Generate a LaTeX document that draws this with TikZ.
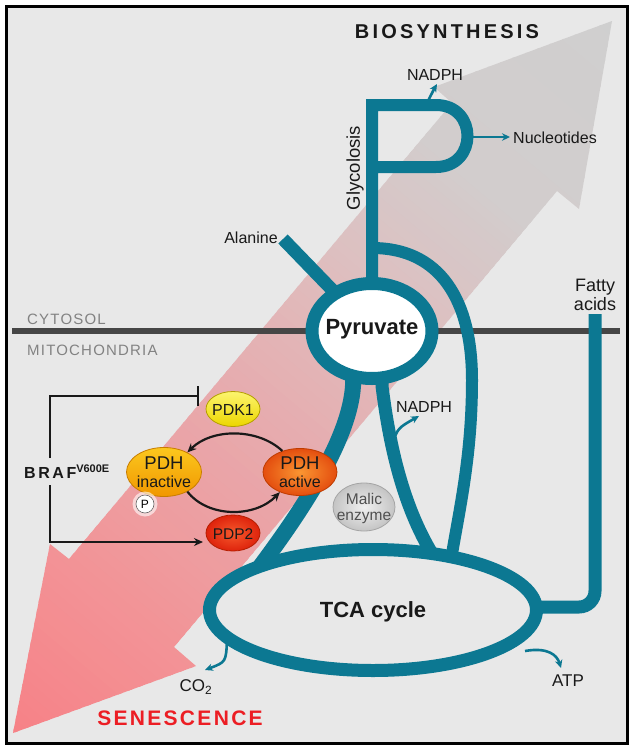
\documentclass[tikz,border=0pt]{standalone}
\usepackage{fontspec}
\setmainfont{Liberation Sans}
\newfontfamily\bigspaced[LetterSpace=16]{Liberation Sans}
\newfontfamily\midspaced[LetterSpace=11]{Liberation Sans}
\newfontfamily\smallspaced[LetterSpace=8]{Liberation Sans}
\usetikzlibrary{arrows.meta,shapes.geometric}
\definecolor{bgc}{RGB}{232,232,232}
\definecolor{tealc}{RGB}{12,120,146}
\definecolor{txt}{RGB}{25,25,25}
\definecolor{memb}{RGB}{70,70,70}
\definecolor{cytc}{RGB}{130,130,130}
\definecolor{senc}{RGB}{236,30,36}
\definecolor{gA}{RGB}{247,128,133}
\definecolor{gB}{RGB}{242,148,151}
\definecolor{gC}{RGB}{233,166,169}
\definecolor{gD}{RGB}{223,189,190}
\definecolor{gE}{RGB}{210,205,205}
\definecolor{gF}{RGB}{207,207,207}
\definecolor{pdkT}{RGB}{252,244,110}
\definecolor{pdkB}{RGB}{236,214,0}
\definecolor{pdkD}{RGB}{180,160,0}
\definecolor{inT}{RGB}{251,200,30}
\definecolor{inB}{RGB}{241,150,0}
\definecolor{inD}{RGB}{200,125,0}
\definecolor{acI}{RGB}{250,150,50}
\definecolor{acO}{RGB}{228,78,15}
\definecolor{acD}{RGB}{190,60,0}
\definecolor{ppI}{RGB}{246,90,45}
\definecolor{ppO}{RGB}{222,35,12}
\definecolor{ppD}{RGB}{180,30,0}
\definecolor{meI}{RGB}{240,240,240}
\definecolor{meO}{RGB}{196,196,196}
\definecolor{meD}{RGB}{165,165,165}
\definecolor{metx}{RGB}{80,80,80}
\begin{document}
\begin{tikzpicture}[x=1pt,y=-1pt,
  tube/.style={draw=tealc, line width=13pt},
  flow/.style={draw=tealc, line width=2.6pt, -{Stealth[length=8pt,width=7.5pt]}},
  lab/.style={inner sep=0pt, text=txt, font=\fontsize{16}{18}\selectfont},
  enz/.style={ellipse, line width=0.8pt, inner sep=0pt},
  ctrl/.style={draw=txt, line width=2.2pt},
]
\useasboundingbox (0,0) rectangle (633,750);
\fill[white] (0,0) rectangle (633,750);
\fill[bgc] (6,6) rectangle (627,743);

% big double arrow with gradient
\begin{scope}
\clip (612,21) -- (579,209) -- (557,191) -- (174,647) -- (196,666) -- (13,733) -- (50,544) -- (69,559) -- (452,103) -- (434,87) -- cycle;
\begin{scope}[rotate=50]
\foreach \a/\b/\ca/\cb in {-570/-380/gA/gB,-380/-200/gB/gC,-200/0/gC/gD,0/170/gD/gE,170/400/gE/gF}{
  \foreach \i in {0,...,19}{
    \pgfmathsetmacro\xs{\a+(\b-\a)*\i/20}
    \pgfmathtruncatemacro\pc{100*(\i+0.5)/20}
    \colorlet{tmpc}{\cb!\pc!\ca}
    \fill[tmpc] (\xs,375) rectangle ++(13,220);
  }
}
\end{scope}
\end{scope}

% membrane
\draw[memb, line width=5.5pt] (12,331) -- (620,331);
\node[inner sep=0pt, anchor=west, text=cytc, font=\smallspaced\fontsize{15}{17}\selectfont] (cyto) at (27,319) {CYTOSOL};
\node[inner sep=0pt, anchor=west, text=cytc, font=\smallspaced\fontsize{15}{17}\selectfont] (mito) at (27,350) {MITOCHONDRIA};

% coordinates
\coordinate (pyrc) at (372,331);
\coordinate (tcac) at (373,610);
\coordinate (alaEnd) at (283,239);
\coordinate (glyTop) at (372,105);
\coordinate (faTop) at (595,314);

% teal tubes
\draw[tube, line width=12pt, line join=miter] (pyrc) -- (glyTop) -- (436,105) .. controls (478,105) and (478,167) .. (436,167) -- (372,167);
\draw[tube] (alaEnd) -- (pyrc);
\draw[tube, line width=12pt] (372,248) .. controls (440,248) and (472,300) .. (472,380) .. controls (472,460) and (458,515) .. (450,566);
\draw[tube, line width=16pt] (353,360) -- (353,386) .. controls (350,430) and (318,490) .. (256,572);
\draw[tube] (382,360) -- (382,386) .. controls (390,450) and (405,515) .. (440,566);
\draw[tube, rounded corners=16pt] (faTop) -- (595,607) -- (530,607);

% small flux arrows
\coordinate (nadA) at (428,101);
\coordinate (nadB) at (437,84);
\draw[flow] (nadA) .. controls (431,94) .. (nadB);
\coordinate (nucA) at (473,137);
\coordinate (nucB) at (510,137);
\draw[flow] (nucA) -- (nucB);
\coordinate (nad2A) at (392,444);
\coordinate (nad2B) at (419,416);
\draw[flow] (nad2A) .. controls (398,428) .. (nad2B);
\coordinate (co2A) at (227,640);
\coordinate (co2B) at (205,670);
\draw[flow] (co2A) .. controls (226,662) .. (co2B);
\coordinate (atpA) at (525,651);
\coordinate (atpB) at (561,668);
\draw[flow] (atpA) .. controls (548,647) and (557,655) .. (atpB);

% TCA and pyruvate
\node[ellipse, draw=tealc, fill=bgc, line width=13pt, minimum width=327pt, minimum height=121pt, inner sep=0pt] (tca) at (tcac) {};
\node[ellipse, draw=tealc, fill=white, line width=13pt, minimum width=120pt, minimum height=95pt, inner sep=0pt] (pyr) at (pyrc) {};
\node[inner sep=0pt, text=txt, font=\bfseries\fontsize{22}{24}\selectfont] (pyrT) at (372,329) {Pyruvate};
\node[inner sep=0pt, text=txt, font=\bfseries\fontsize{22}{24}\selectfont] (tcaT) at (373,612) {TCA cycle};

% labels
\node[inner sep=0pt, text=txt, font=\bigspaced\bfseries\fontsize{20}{22}\selectfont] (bio) at (447,32) {BIOSYNTHESIS};
\node[inner sep=0pt, text=senc, font=\midspaced\bfseries\fontsize{21}{23}\selectfont] (sen) at (180,718) {SENESCENCE};
\node[lab] (nad1) at (435,75) {NADPH};
\node[lab, anchor=west] (nuc) at (513,138) {Nucleotides};
\node[lab, rotate=90, font=\fontsize{18.5}{20}\selectfont] (gly) at (355,168) {Glycolosis};
\node[lab] (ala) at (251,238) {Alanine};
\node[lab, align=center, font=\fontsize{18}{19}\selectfont] (fat) at (595,295) {Fatty\\acids};
\node[lab] (nad2) at (424,407) {NADPH};
\node[lab, font=\fontsize{17}{19}\selectfont] (co2) at (196,687) {CO\textsubscript{2}};
\node[lab, font=\fontsize{17}{19}\selectfont] (atp) at (568,681) {ATP};

% enzymes
\node[enz, draw=pdkD, top color=pdkT, bottom color=pdkB, minimum width=54pt, minimum height=35pt] (pdk) at (233,409) {};
\node[lab, font=\fontsize{16}{18}\selectfont] (pdkL) at (233,410) {PDK1};
\node[enz, draw=inD, top color=inT, bottom color=inB, minimum width=75pt, minimum height=49pt] (pdhi) at (164,472) {};
\node[lab, font=\fontsize{18.5}{20}\selectfont] (pdhiA) at (164,463) {PDH};
\node[lab, font=\fontsize{16}{18}\selectfont] (pdhiB) at (164,482) {inactive};
\node[enz, draw=acD, inner color=acI, outer color=acO, minimum width=74pt, minimum height=47pt] (pdha) at (300,472) {};
\node[lab, font=\fontsize{18.5}{20}\selectfont] (pdhaA) at (300,463) {PDH};
\node[lab, font=\fontsize{16}{18}\selectfont] (pdhaB) at (300,482) {active};
\node[enz, draw=ppD, inner color=ppI, outer color=ppO, minimum width=54pt, minimum height=36pt] (pdp) at (233,533) {};
\node[lab, font=\fontsize{15.5}{18}\selectfont] (pdpL) at (233,534) {PDP2};
\node[enz, draw=meD, inner color=meI, outer color=meO, minimum width=62pt, minimum height=48pt] (mal) at (364,507) {};
\node[lab, text=metx, align=center, font=\fontsize{15.5}{16}\selectfont] (malL) at (364,508) {Malic\\enzyme};
\fill[white, opacity=0.6] (145,504) circle (12.5);
\node[circle, draw=black!60, fill=white, line width=0.6pt, minimum size=18pt, inner sep=0pt, font=\fontsize{12}{12}\selectfont] (phos) at (145,504) {P};

% PDH cycle arrows
\draw[ctrl, -{Stealth[length=9pt,width=8pt]}] (pdha.130) .. controls (258,428) and (212,428) .. (pdhi.40);
\draw[ctrl, -{Stealth[length=9pt,width=8pt]}] (pdhi.-40) .. controls (208,518) and (255,518) .. (pdha.-135);

% BRAF
\node[inner sep=0pt, text=txt, font=\bfseries\fontsize{16}{18}\selectfont] (braf) at (67,472) {{\bigspaced BRAF}\textsuperscript{\fontsize{11}{11}\selectfont V600E}};
\coordinate (brafTop) at (50,458);
\coordinate (brafBot) at (50,485);
\coordinate (inhib) at (199,396);
\coordinate (actv) at (203,542);
\draw[ctrl, -{Bar[width=20pt]}] (brafTop) |- (inhib);
\draw[ctrl, -{Stealth[length=9pt,width=8pt]}] (brafBot) |- (actv);

% frame
\draw[black, line width=3pt] (6,6) rectangle (627,743);
\end{tikzpicture}
\end{document}
